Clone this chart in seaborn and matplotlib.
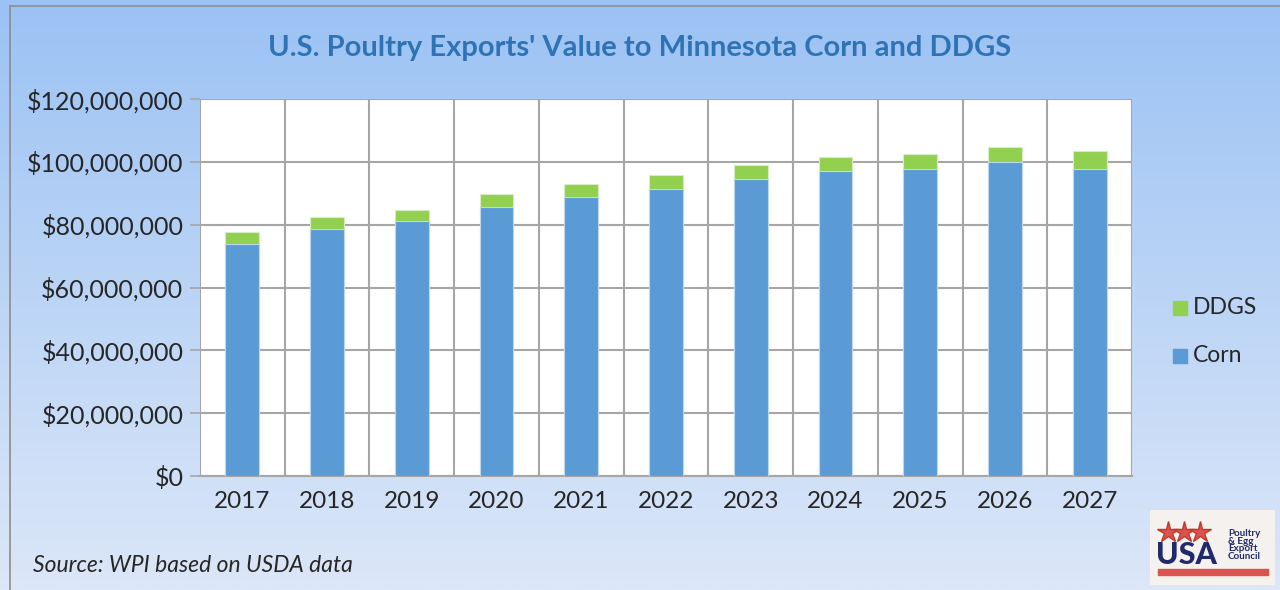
import numpy as np
import pandas as pd
import matplotlib
matplotlib.use('Agg')
import matplotlib.pyplot as plt
import seaborn as sns
from matplotlib.patches import Rectangle
from matplotlib.ticker import FuncFormatter, FixedLocator

# values, in millions of dollars
years = ['2017', '2018', '2019', '2020', '2021', '2022', '2023', '2024', '2025', '2026', '2027']
corn = [74.0, 78.6, 81.1, 85.6, 88.8, 91.4, 94.6, 97.0, 97.8, 100.1, 97.8]
ddgs = [3.6, 3.8, 3.7, 4.1, 4.2, 4.4, 4.5, 4.6, 4.7, 4.7, 5.6]

CORN_C = '#5B9BD5'
DDGS_C = '#92D050'
TITLE_C = '#2E74B5'
GRID_C = '#A6A6A6'

df = pd.DataFrame({'year': years,
                   'corn': np.array(corn) * 1e6,
                   'ddgs': np.array(ddgs) * 1e6})
df['total'] = df['corn'] + df['ddgs']

sns.set_style('white')
plt.rcParams['font.family'] = ['Lato', 'DejaVu Sans']

fig = plt.figure(figsize=(12.8, 5.9), dpi=100)

# gradient background
bg = fig.add_axes([0, 0, 1, 1], zorder=-10)
grad = np.linspace(0, 1, 256).reshape(-1, 1)
cmap = matplotlib.colors.LinearSegmentedColormap.from_list('bg', ['#9BC2F4', '#DCE7F8'])
bg.imshow(grad, aspect='auto', cmap=cmap, extent=[0, 1, 0, 1], origin='upper')
bg.add_patch(Rectangle((10 / 1280, -0.1), 1.2, (590 - 6) / 590 + 0.1,
                       fill=False, edgecolor='#8C8C8C', lw=1.2))
bg.set_xlim(0, 1)
bg.set_ylim(0, 1)
bg.axis('off')

ax = fig.add_axes([200 / 1280, 114 / 590, 932 / 1280, 377 / 590])
ax.set_facecolor('white')

# green = total height, blue corn drawn on top -> stacked look
sns.barplot(data=df, x='year', y='total', color=DDGS_C, width=0.4,
            edgecolor='#D9EDC5', linewidth=0.8, saturation=1, ax=ax, zorder=3)
sns.barplot(data=df, x='year', y='corn', color=CORN_C, width=0.4,
            edgecolor='#BDD7EE', linewidth=0.8, saturation=1, ax=ax, zorder=4)

ax.set_xlim(-0.5, len(years) - 0.5)
ax.set_ylim(0, 120e6)
ax.set_yticks(np.arange(0, 120e6 + 1, 20e6))
ax.yaxis.set_major_formatter(FuncFormatter(lambda v, p: f'${v:,.0f}'))
ax.set_xlabel('')
ax.set_ylabel('')

ax.xaxis.set_minor_locator(FixedLocator(np.arange(-0.5, len(years), 1.0)))
ax.tick_params(axis='x', which='major', length=0, labelsize=17.5, pad=11)
ax.tick_params(axis='x', which='minor', length=7, width=1.2, color=GRID_C, direction='out')
ax.tick_params(axis='y', which='major', length=7, width=1.2, color=GRID_C,
               labelsize=18, pad=5, left=True)
ax.grid(False)
ax.grid(axis='y', which='major', color=GRID_C, lw=1.5, zorder=1)
ax.grid(axis='x', which='minor', color=GRID_C, lw=1.5, zorder=1)
for s in ax.spines.values():
    s.set_visible(False)
ax.spines['bottom'].set_visible(True)
ax.spines['bottom'].set_color(GRID_C)
ax.spines['bottom'].set_linewidth(1.5)

fig.text(0.5, 1 - 48 / 590, "U.S. Poultry Exports' Value to Minnesota Corn and DDGS",
         ha='center', va='center', fontsize=21, fontweight='bold', color=TITLE_C)

# legend
fig.patches.append(Rectangle((1173 / 1280, 1 - 315 / 590), 14 / 1280, 14 / 590,
                             transform=fig.transFigure, color=DDGS_C))
fig.text(1193 / 1280, 1 - 308 / 590, 'DDGS', va='center', fontsize=16.5)
fig.patches.append(Rectangle((1173 / 1280, 1 - 363 / 590), 14 / 1280, 14 / 590,
                             transform=fig.transFigure, color=CORN_C))
fig.text(1193 / 1280, 1 - 356 / 590, 'Corn', va='center', fontsize=16.5)

fig.text(33 / 1280, 1 - 566 / 590, 'Source: WPI based on USDA data',
         fontsize=16.5, style='italic', va='center')

# logo
logo = fig.add_axes([1150 / 1280, 1 - 585 / 590, 125 / 1280, 75 / 590])
logo.set_xlim(0, 125)
logo.set_ylim(0, 75)
logo.add_patch(Rectangle((0, 0), 125, 75, color='#F5F1EE'))
for sx in [18, 34, 50]:
    logo.plot(sx, 53, marker='*', ms=16, color='#D9534F', mec='#C0392B')
logo.text(6, 30, 'USA', fontsize=22, fontweight='black', color='#1F2A6B', va='center')
logo.text(78, 40, 'Poultry\n& Egg\nExport\nCouncil', fontsize=7, color='#1F2A6B',
          fontweight='bold', va='center', ha='left', linespacing=0.85)
logo.add_patch(Rectangle((8, 10), 110, 6, color='#D9534F'))
logo.axis('off')

fig.savefig('out.png', dpi=100)
